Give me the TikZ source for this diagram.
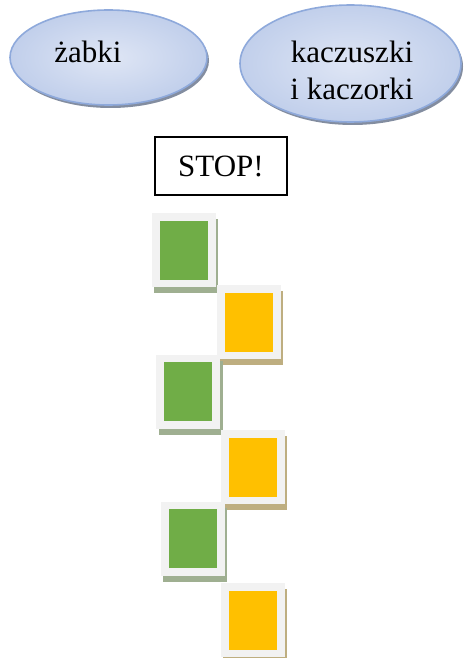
\documentclass[tikz,border=0pt]{standalone}
\usepackage{fontspec}
\setmainfont{Liberation Serif}
\usepackage{tikz}
\usetikzlibrary{shapes.geometric, shadows}

\definecolor{ovalEdge}{HTML}{8EA9DB}
\definecolor{ovalIn}{HTML}{DFE6F5}
\definecolor{ovalOut}{HTML}{C1CFEB}
\definecolor{frameGray}{HTML}{F2F2F2}
\definecolor{frogGreen}{HTML}{70AD47}
\definecolor{duckYellow}{HTML}{FFC000}
\definecolor{greenShade}{HTML}{9FAF91}
\definecolor{yellowShade}{HTML}{BEAE80}

\begin{document}
\begin{tikzpicture}[x=1pt, y=-1pt,
		oval/.style={ellipse, draw=ovalEdge, line width=1.6pt, inner color=ovalIn, outer color=ovalOut,
			drop shadow={shadow xshift=2pt, shadow yshift=-3pt, fill=black!45!ovalEdge, opacity=0.7}},
		big/.style={font=\fontsize{31}{37}\selectfont},
		greenframe/.style={rectangle, fill=frameGray, minimum width=64pt, minimum height=74pt, inner sep=0pt,
			drop shadow={shadow xshift=2.5pt, shadow yshift=-6pt, fill=greenShade, opacity=1}},
		yellowframe/.style={greenframe, drop shadow={shadow xshift=2.5pt, shadow yshift=-6pt, fill=yellowShade, opacity=1}},
		tile/.style={rectangle, minimum width=48pt, minimum height=59pt, inner sep=0pt}]
		\useasboundingbox (0, 0) rectangle (463, 658);

		\node[oval, minimum width=197pt, minimum height=95pt] (zabki) at (108.5, 57.5) {};
		\node[oval, minimum width=221pt, minimum height=117pt] (kaczki) at (350.5, 63.5) {};
		\node[big, anchor=base] (zabkiText) at (88, 63) {żabki};
		\node[big, anchor=base, align=center] (kaczkiText) at (352, 100) {kaczuszki\\i kaczorki};

		\node[draw, line width=1.2pt, minimum width=132pt, minimum height=58pt, big] (stop) at (221, 166) {STOP!};

		\node[greenframe]  (frameA) at (183.5, 250) {};
		\node[yellowframe] (frameB) at (248.5, 322) {};
		\node[greenframe]  (frameC) at (188, 391.5) {};
		\node[yellowframe] (frameD) at (252.5, 467) {};
		\node[greenframe]  (frameE) at (192.5, 538.5) {};
		\node[yellowframe] (frameF) at (252.5, 620) {};

		\node[tile, fill=frogGreen]  (tileA) at (frameA.center) {};
		\node[tile, fill=duckYellow] (tileB) at (frameB.center) {};
		\node[tile, fill=frogGreen]  (tileC) at (frameC.center) {};
		\node[tile, fill=duckYellow] (tileD) at (frameD.center) {};
		\node[tile, fill=frogGreen]  (tileE) at (frameE.center) {};
		\node[tile, fill=duckYellow] (tileF) at (frameF.center) {};
	\end{tikzpicture}
\end{document}
